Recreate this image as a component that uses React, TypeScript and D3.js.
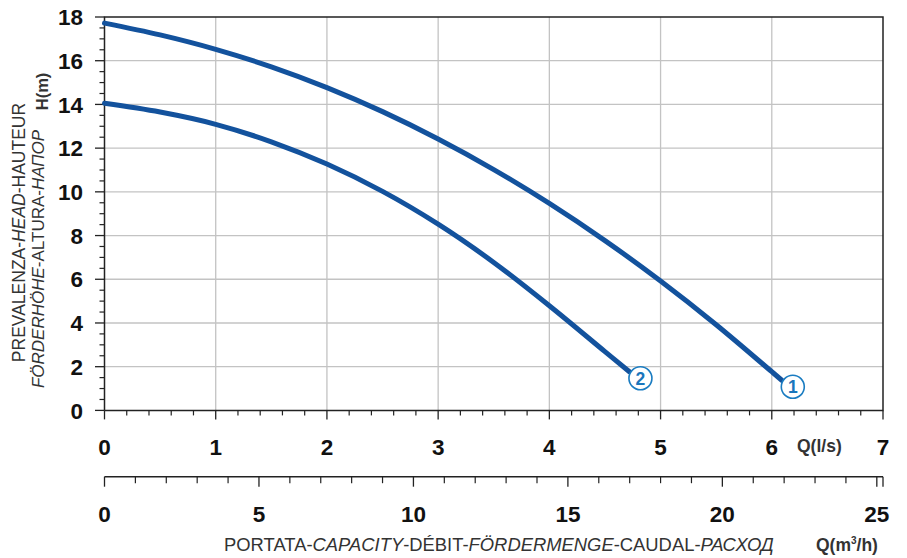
import { useEffect, useRef } from "react";
import * as d3 from "d3";

// Pump curves: Q in l/s, H in m
const curve1Q = [0, 0.5, 1, 1.5, 2, 2.5, 3, 3.5, 4, 4.5, 5, 5.5, 6, 6.09];
const curve1H = [17.72, 17.18, 16.52, 15.72, 14.77, 13.67, 12.42, 11.02, 9.47, 7.77, 5.92, 3.92, 1.77, 1.38];
const curve2Q = [0, 0.5, 1, 1.5, 2, 2.5, 3, 3.5, 4, 4.5, 4.72];
const curve2H = [14.05, 13.65, 13.09, 12.29, 11.27, 10.02, 8.52, 6.77, 4.79, 2.69, 1.77];
const curveLabels = ["1", "2"];

const headTicks = [0, 2, 4, 6, 8, 10, 12, 14, 16, 18];
const flowTicksLs = [0, 1, 2, 3, 4, 5, 6, 7];
const flowTicksM3h = [0, 5, 10, 15, 20, 25];

const FONT = "'Liberation Sans', Arial, sans-serif";

export default function App() {
  const svgRef = useRef<SVGSVGElement>(null);

  useEffect(() => {
    const svg = d3.select(svgRef.current);
    svg.selectAll("*").remove();
    const width = 907;
    const height = 558;
    const left = 104.5;
    const right = 883;
    const top = 17;
    const bottom = 410.4;
    const axis2Y = 476.7;

    svg.attr("width", width).attr("height", height).style("background", "#fff");

    const x = d3.scaleLinear().domain([0, 7]).range([left, right]);
    const xm = d3.scaleLinear().domain([0, 7 * 3.6]).range([left, right]);
    const y = d3.scaleLinear().domain([0, 18]).range([bottom, top]);

    const grid = "#c3c3c3";
    const ink = "#222";

    // grid
    svg
      .append("g")
      .selectAll("line")
      .data(flowTicksLs.slice(1, -1))
      .enter()
      .append("line")
      .attr("x1", (d) => x(d))
      .attr("x2", (d) => x(d))
      .attr("y1", top)
      .attr("y2", bottom)
      .attr("stroke", grid)
      .attr("stroke-width", 1.3);
    svg
      .append("g")
      .selectAll("line")
      .data(headTicks.slice(1, -1))
      .enter()
      .append("line")
      .attr("x1", left)
      .attr("x2", right)
      .attr("y1", (d) => y(d))
      .attr("y2", (d) => y(d))
      .attr("stroke", grid)
      .attr("stroke-width", 1.3);

    // y axis minor / major ticks
    const yMinor = d3.range(0, 18.01, 0.5).filter((v) => v % 2 !== 0);
    svg
      .append("g")
      .selectAll("line")
      .data(yMinor)
      .enter()
      .append("line")
      .attr("x1", left - 5)
      .attr("x2", left)
      .attr("y1", (d) => y(d))
      .attr("y2", (d) => y(d))
      .attr("stroke", ink)
      .attr("stroke-width", 1.2);
    svg
      .append("g")
      .selectAll("line")
      .data(headTicks)
      .enter()
      .append("line")
      .attr("x1", left - 9.5)
      .attr("x2", left)
      .attr("y1", (d) => y(d))
      .attr("y2", (d) => y(d))
      .attr("stroke", ink)
      .attr("stroke-width", 1.3);

    // frame
    svg
      .append("path")
      .attr("d", `M${left},${bottom}V${top}H${right}V${bottom}H${left}`)
      .attr("fill", "none")
      .attr("stroke", ink)
      .attr("stroke-width", 1.5);

    // x (l/s) ticks
    const xMinor = d3.range(0, 7.001, 0.2).filter((v) => Math.abs(v - Math.round(v)) > 0.01);
    svg
      .append("g")
      .selectAll("line")
      .data(xMinor)
      .enter()
      .append("line")
      .attr("x1", (d) => x(d))
      .attr("x2", (d) => x(d))
      .attr("y1", bottom)
      .attr("y2", bottom + 5)
      .attr("stroke", ink)
      .attr("stroke-width", 1.2);
    svg
      .append("g")
      .selectAll("line")
      .data(flowTicksLs)
      .enter()
      .append("line")
      .attr("x1", (d) => x(d))
      .attr("x2", (d) => x(d))
      .attr("y1", bottom)
      .attr("y2", bottom + 9)
      .attr("stroke", ink)
      .attr("stroke-width", 1.3);

    // second axis (m3/h)
    svg
      .append("line")
      .attr("x1", left)
      .attr("x2", right)
      .attr("y1", axis2Y)
      .attr("y2", axis2Y)
      .attr("stroke", ink)
      .attr("stroke-width", 1.5);
    const mMinor = d3.range(0, 26, 1).filter((v) => v % 5 !== 0);
    svg
      .append("g")
      .selectAll("line")
      .data(mMinor)
      .enter()
      .append("line")
      .attr("x1", (d) => xm(d))
      .attr("x2", (d) => xm(d))
      .attr("y1", axis2Y)
      .attr("y2", axis2Y + 6.5)
      .attr("stroke", ink)
      .attr("stroke-width", 1.2);
    svg
      .append("g")
      .selectAll("line")
      .data(flowTicksM3h)
      .enter()
      .append("line")
      .attr("x1", (d) => xm(d))
      .attr("x2", (d) => xm(d))
      .attr("y1", axis2Y)
      .attr("y2", axis2Y + 10)
      .attr("stroke", ink)
      .attr("stroke-width", 1.3);
    svg
      .append("line")
      .attr("x1", right)
      .attr("x2", right)
      .attr("y1", axis2Y)
      .attr("y2", axis2Y + 10)
      .attr("stroke", ink)
      .attr("stroke-width", 1.3);

    // tick labels
    const tickText = (g: any) =>
      g
        .attr("font-family", FONT)
        .attr("font-weight", "bold")
        .attr("font-size", 22.5)
        .attr("fill", "#111");
    svg
      .append("g")
      .call(tickText)
      .selectAll("text")
      .data(headTicks)
      .enter()
      .append("text")
      .attr("x", 83)
      .attr("y", (d) => y(d))
      .attr("dy", "0.36em")
      .attr("text-anchor", "end")
      .text((d) => d);
    svg
      .append("g")
      .call(tickText)
      .selectAll("text")
      .data(flowTicksLs)
      .enter()
      .append("text")
      .attr("x", (d) => x(d))
      .attr("y", 455)
      .attr("text-anchor", "middle")
      .text((d) => d);
    svg
      .append("g")
      .call(tickText)
      .selectAll("text")
      .data(flowTicksM3h)
      .enter()
      .append("text")
      .attr("x", (d) => xm(d))
      .attr("y", 522)
      .attr("text-anchor", "middle")
      .text((d) => d);

    // unit labels
    svg
      .append("text")
      .attr("x", 797)
      .attr("y", 452)
      .attr("font-family", FONT)
      .attr("font-weight", "bold")
      .attr("font-size", 17.5)
      .attr("fill", "#333")
      .text("Q(l/s)");
    const qm = svg
      .append("text")
      .attr("x", 816)
      .attr("y", 551)
      .attr("font-family", FONT)
      .attr("font-weight", "bold")
      .attr("font-size", 17.5)
      .attr("fill", "#333");
    qm.append("tspan").text("Q(m");
    qm.append("tspan").attr("dy", -7).attr("font-size", 10).text("3");
    qm.append("tspan").attr("dy", 7).text("/h)");

    // x title
    const xt = svg
      .append("text")
      .attr("x", 224)
      .attr("y", 551)
      .attr("font-family", FONT)
      .attr("font-size", 18.4)
      .attr("fill", "#333");
    [
      ["PORTATA-", false],
      ["CAPACITY", true],
      ["-DÉBIT-", false],
      ["FÖRDERMENGE", true],
      ["-CAUDAL-", false],
      ["РАСХОД", true],
    ].forEach(([t, it]) =>
      xt
        .append("tspan")
        .attr("font-style", it ? "italic" : "normal")
        .text(t as string)
    );

    // y title
    const yt1 = svg
      .append("text")
      .attr("transform", "translate(25,232.5) rotate(-90)")
      .attr("text-anchor", "middle")
      .attr("font-family", FONT)
      .attr("font-size", 17.5)
      .attr("fill", "#333");
    [
      ["PREVALENZA-", false],
      ["HEAD", true],
      ["-HAUTEUR", false],
    ].forEach(([t, it]) =>
      yt1
        .append("tspan")
        .attr("font-style", it ? "italic" : "normal")
        .text(t as string)
    );
    const yt2 = svg
      .append("text")
      .attr("transform", "translate(43.5,259) rotate(-90)")
      .attr("text-anchor", "middle")
      .attr("font-family", FONT)
      .attr("font-size", 17)
      .attr("fill", "#333");
    [
      ["FÖRDERHÖHE", true],
      ["-ALTURA-", false],
      ["НАПОР", true],
    ].forEach(([t, it]) =>
      yt2
        .append("tspan")
        .attr("font-style", it ? "italic" : "normal")
        .text(t as string)
    );
    svg
      .append("text")
      .attr("transform", "translate(48,91.5) rotate(-90)")
      .attr("text-anchor", "middle")
      .attr("font-family", FONT)
      .attr("font-weight", "bold")
      .attr("font-size", 16.5)
      .attr("fill", "#333")
      .text("H(m)");

    // curves
    const curves = [
      { q: curve1Q, h: curve1H, label: curveLabels[0] },
      { q: curve2Q, h: curve2H, label: curveLabels[1] },
    ];
    const line = d3
      .line<[number, number]>()
      .x((d) => x(d[0]))
      .y((d) => y(d[1]))
      .curve(d3.curveCatmullRom.alpha(0.5));

    curves.forEach((c) => {
      const pts = c.q.map((q, i) => [q, c.h[i]] as [number, number]);
      svg
        .append("path")
        .attr("d", line(pts))
        .attr("fill", "none")
        .attr("stroke", "#13529d")
        .attr("stroke-width", 5)
        .attr("stroke-linecap", "round");
      const last = pts[pts.length - 1];
      const cx = x(last[0]) + 11;
      const cy = y(last[1]) + 6.5;
      svg
        .append("circle")
        .attr("cx", cx)
        .attr("cy", cy)
        .attr("r", 11.5)
        .attr("fill", "#fff")
        .attr("stroke", "#1a7cc1")
        .attr("stroke-width", 1.6);
      svg
        .append("text")
        .attr("x", cx)
        .attr("y", cy)
        .attr("dy", "0.36em")
        .attr("text-anchor", "middle")
        .attr("font-family", FONT)
        .attr("font-weight", "bold")
        .attr("font-size", 17.5)
        .attr("fill", "#1a76bc")
        .text(c.label);
    });
  }, []);

  return (
    <svg
      ref={svgRef}
      style={{ position: "absolute", left: 0, top: 0, display: "block" }}
    ></svg>
  );
}
